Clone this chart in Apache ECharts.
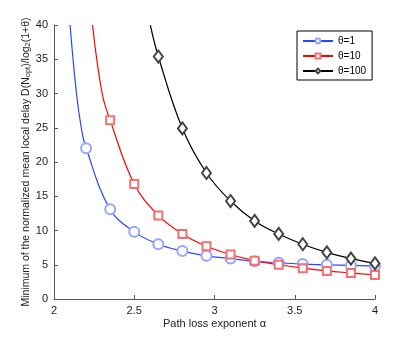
<!DOCTYPE html>
<html>
<head>
<meta charset="utf-8">
<script src="https://cdn.jsdelivr.net/npm/echarts@6/dist/echarts.min.js"></script>
<style>
  html, body { margin: 0; padding: 0; background: #fff; }
  #chart { width: 415px; height: 337px; }
</style>
</head>
<body>
<div id="chart"></div>
<script>
// marker positions (alpha) and curve values
const alphaBlue = [2.1, 2.14, 2.17, 2.2, 2.35, 2.5, 2.65, 2.8, 2.95, 3.1, 3.25, 3.4, 3.55, 3.7, 3.85, 4.0];
const theta1 = [40, 30, 25, 22, 13.1, 9.8, 8.0, 7.0, 6.3, 5.9, 5.5, 5.3, 5.1, 5.0, 4.9, 4.8];

const alphaRed = [2.24, 2.3, 2.35, 2.5, 2.65, 2.8, 2.95, 3.1, 3.25, 3.4, 3.55, 3.7, 3.85, 4.0];
const theta10 = [40, 30, 26.1, 16.8, 12.2, 9.5, 7.7, 6.5, 5.6, 5.0, 4.5, 4.1, 3.8, 3.5];

const alphaBlack = [2.6, 2.65, 2.8, 2.95, 3.1, 3.25, 3.4, 3.55, 3.7, 3.85, 4.0];
const theta100 = [40, 35.4, 24.9, 18.4, 14.3, 11.4, 9.5, 8.0, 6.8, 5.9, 5.2];

// the first few points only shape the curve, they carry no marker
const hiddenBlue = 3, hiddenRed = 2, hiddenBlack = 1;

const xTicks = [2, 2.5, 3, 3.5, 4];
const yTicks = [0, 5, 10, 15, 20, 25, 30, 35, 40];

function pts(xs, ys, hidden) {
  return xs.map((x, i) => i < hidden ? { value: [x, ys[i]], symbol: 'none' } : [x, ys[i]]);
}

const myChart = echarts.init(document.getElementById('chart'));
const font = 'Liberation Sans, Arial, sans-serif';

const option = {
  animation: false,
  textStyle: { fontFamily: font },
  grid: { left: 54, right: 40, top: 25, bottom: 38, outerBoundsMode: 'none' },
  legend: {
    orient: 'vertical',
    left: 297,
    top: 31,
    itemWidth: 30,
    itemHeight: 6,
    itemGap: 5,
    padding: [5, 6, 4, 5],
    borderColor: '#000',
    borderWidth: 1,
    textStyle: { fontSize: 10, color: '#000', fontFamily: font },
    data: ['θ=1', 'θ=10', 'θ=100']
  },
  xAxis: {
    type: 'value',
    min: 2, max: 4, interval: 0.5,
    name: 'Path loss exponent α',
    nameLocation: 'middle',
    nameMoveOverlap: false,
    nameGap: 19,
    nameTextStyle: { fontSize: 11, color: '#222' },
    axisLine: { lineStyle: { color: '#555', width: 1 } },
    axisTick: { inside: true, length: 4, lineStyle: { color: '#555' } },
    axisLabel: { fontSize: 11, color: '#222', margin: 6,
      formatter: v => xTicks.includes(v) ? String(v) : '' },
    splitLine: { show: false }
  },
  yAxis: {
    type: 'value',
    min: 0, max: 40, interval: 5,
    name: 'Minimum of the normalized mean local delay D(N{s|opt})/log{s|2}(1+θ)',
    nameLocation: 'middle',
    nameRotate: 90,
    nameMoveOverlap: false,
    nameGap: 22,
    nameTextStyle: { fontSize: 10.5, color: '#222',
      rich: { s: { fontSize: 7.5, verticalAlign: 'bottom', padding: [4, 0, 0, 0], color: '#222' } } },
    axisLine: { show: true, lineStyle: { color: '#555', width: 1 } },
    axisTick: { show: true, inside: true, length: 4, lineStyle: { color: '#555' } },
    axisLabel: { fontSize: 11, color: '#222', margin: 6,
      formatter: v => yTicks.includes(v) ? String(v) : '' },
    splitLine: { show: false }
  },
  series: [
    {
      name: 'θ=1', type: 'line', smooth: 0.4,
      data: pts(alphaBlue, theta1, hiddenBlue),
      symbol: 'emptyCircle', symbolSize: 10,
      lineStyle: { color: '#2a45ff', width: 1.2 },
      itemStyle: { color: '#97a4ff', borderColor: '#97a4ff', borderWidth: 0.6 }
    },
    {
      name: 'θ=10', type: 'line', smooth: 0.4,
      data: pts(alphaRed, theta10, hiddenRed),
      symbol: 'emptyRect', symbolSize: 8,
      lineStyle: { color: '#ff0000', width: 1.2 },
      itemStyle: { color: '#f27070', borderColor: '#f27070', borderWidth: 0.6 }
    },
    {
      name: 'θ=100', type: 'line', smooth: 0.4,
      data: pts(alphaBlack, theta100, hiddenBlack),
      symbol: 'emptyDiamond', symbolSize: [9, 12],
      lineStyle: { color: '#000', width: 1.2 },
      itemStyle: { color: '#444', borderColor: '#444', borderWidth: 0.6 }
    }
  ]
};

myChart.setOption(option);
</script>
</body>
</html>
